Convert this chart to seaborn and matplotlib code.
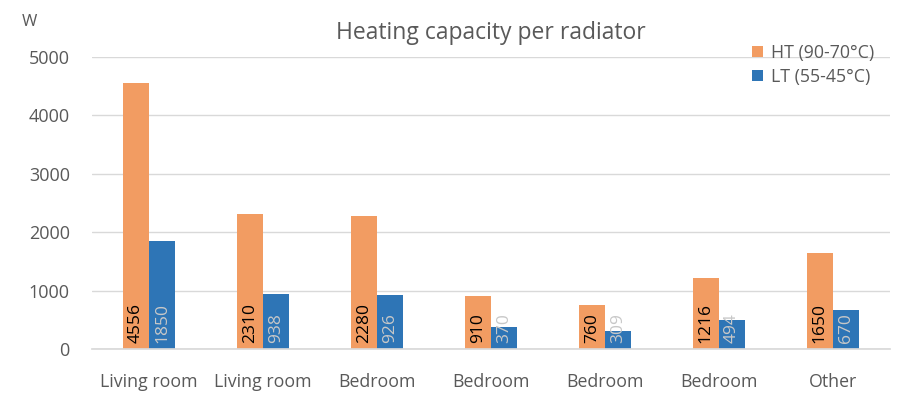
import matplotlib
matplotlib.use("Agg")
import matplotlib.pyplot as plt
import seaborn as sns
import pandas as pd

rooms = ["Living room", "Living room", "Bedroom", "Bedroom", "Bedroom", "Bedroom", "Other"]
ht_values = [4556, 2310, 2280, 910, 760, 1216, 1650]
lt_values = [1850, 938, 926, 370, 309, 494, 670]
series_names = ["HT (90-70°C)", "LT (55-45°C)"]
y_ticks = [0, 1000, 2000, 3000, 4000, 5000]

ORANGE = "#F29C62"
BLUE = "#2E75B6"
GREY = "#595959"

rows = []
for i, room in enumerate(rooms):
    rows.append({"slot": i, "room": room, "series": series_names[0], "watts": ht_values[i]})
    rows.append({"slot": i, "room": room, "series": series_names[1], "watts": lt_values[i]})
df = pd.DataFrame(rows)

sns.set_theme(style="white")
plt.rcParams["font.family"] = ["Open Sans", "DejaVu Sans"]

fig = plt.figure(figsize=(8.97, 3.98), dpi=100)
ax = fig.add_axes([92 / 897, 1 - 349 / 398, (890 - 92) / 897, (349 - 57) / 398])

sns.barplot(data=df, x="slot", y="watts", hue="series", hue_order=series_names,
            palette=[ORANGE, BLUE], width=0.46, saturation=1, linewidth=0,
            ax=ax, legend=True)

ax.set_ylim(0, 5000)
ax.set_yticks(y_ticks)
ax.set_yticklabels([str(t) for t in y_ticks], fontsize=13, color=GREY)
ax.set_xticks(range(len(rooms)))
ax.set_xticklabels(rooms, fontsize=12.8, color=GREY)
ax.tick_params(axis="x", length=0, pad=17)
ax.tick_params(axis="y", length=0, pad=16)
ax.set_xlabel("")
ax.set_ylabel("")
ax.yaxis.grid(True, color="#D9D9D9", linewidth=1)
ax.set_axisbelow(True)
for side in ["top", "right", "left"]:
    ax.spines[side].set_visible(False)
ax.spines["bottom"].set_color("#D9D9D9")

label_colors = ["black", "#C8C8C8"]
for container, col in zip(ax.containers, label_colors):
    for bar in container:
        h = bar.get_height()
        ax.text(bar.get_x() + bar.get_width() / 2, 110, f"{int(round(h))}",
                rotation=90, ha="center", va="bottom", fontsize=12.5, color=col)

ax.set_title("Heating capacity per radiator", fontsize=16.5, color=GREY, pad=13)
fig.text(22 / 897, 1 - 22 / 398, "W", fontsize=12, color=GREY, va="center")

leg = ax.legend(loc="upper right", bbox_to_anchor=(1.0, 1.1), frameon=False,
                fontsize=12.8, handlelength=0.6, handleheight=0.6, handletextpad=0.45,
                labelspacing=0.35)
for t in leg.get_texts():
    t.set_color(GREY)

fig.savefig("out.png", dpi=100)
